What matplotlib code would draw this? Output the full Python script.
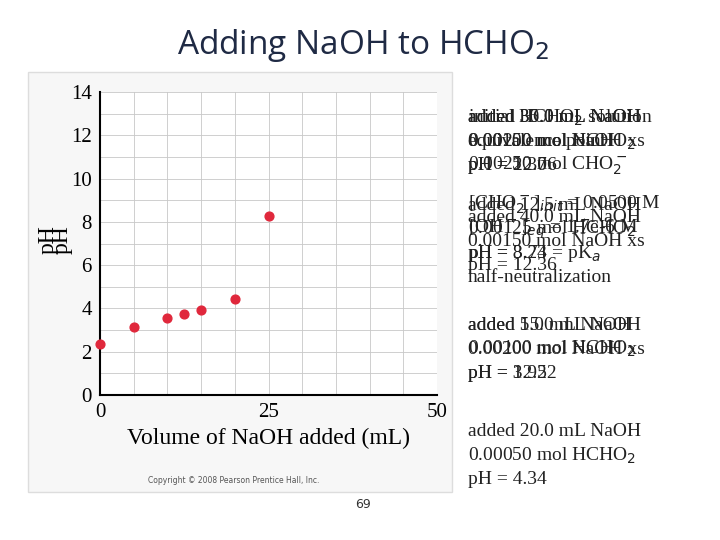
import matplotlib.pyplot as plt
from matplotlib.patches import Rectangle

volume = [0, 5, 10, 12.5, 15, 20, 25]
ph = [2.35, 3.15, 3.55, 3.74, 3.92, 4.45, 8.25]
xticks = [0, 25, 50]
yticks = [0, 2, 4, 6, 8, 10, 12, 14]

fig = plt.figure(figsize=(7.2, 5.4), dpi=100)
# image frame of the textbook figure
fig.patches.append(Rectangle((28/720, 1-492/540), 424/720, 420/540,
                             transform=fig.transFigure, facecolor='#f7f7f7',
                             edgecolor='#dddddd', zorder=-5))
ax = fig.add_axes([100/720, 1-395/540, 337/720, 303/540])
ax.set_zorder(2)
ax.set_facecolor('white')
ax.scatter(volume, ph, color='#e0283c', s=40, zorder=3, clip_on=False)
ax.set_xlim(0, 50)
ax.set_ylim(0, 14)
ax.set_xticks(xticks)
ax.set_yticks(yticks)
ax.set_xticks(range(0, 51, 5), minor=True)
ax.set_yticks(range(0, 15), minor=True)
ax.grid(which='both', color='#c8c8c8', lw=0.6)
ax.tick_params(which='both', length=0, labelsize=15, pad=6)
for lab in ax.get_xticklabels() + ax.get_yticklabels():
    lab.set_family('Liberation Serif')
for s in ['top', 'right']:
    ax.spines[s].set_visible(False)
for s in ['left', 'bottom']:
    ax.spines[s].set_linewidth(1.5)
ax.set_xlabel('Volume of NaOH added (mL)', family='Liberation Serif', fontsize=17)
fig.text(38/720, 1-240/540, 'pH', family='Liberation Serif', fontsize=17, rotation=90, va='center')
fig.text(52/720, 1-240/540, 'pH', family='Liberation Serif', fontsize=17, rotation=90, va='center')
fig.text(148/720, 1-483/540, 'Copyright \u00a9 2008 Pearson Prentice Hall, Inc.', fontsize=5.5, color='#555555')

fig.text(363/720, 1-45/540, 'Adding NaOH to HCHO$_2$', fontsize=24, family='Open Sans',
         color='#1f2a44', ha='center', va='center')
fig.text(363/720, 1-505/540, '69', fontsize=9, color='#333333', ha='center', va='center')

blocks = [
    (118, ['initial HCHO$_2$ solution', '0.00250 mol HCHO$_2$', 'pH = 2.37']),
    (118, ['added 35.0 mL NaOH', '0.00100 mol NaOH xs', 'pH = 12.06']),
    (118, ['added 30.0 mL NaOH', 'equivalence point', '0.00250 mol CHO$_2^-$']),
    (205, ['[CHO$_2^-$]$_{init}$ = 0.0500 M', '[OH$^-$]$_{eq}$ = 1.7e-6 M', 'pH = 8.23']),
    (205, ['added 12.5 mL NaOH', '0.00125 mol HCHO$_2$', 'pH = 3.74 = pK$_a$', 'half-neutralization']),
    (218, ['added 40.0 mL NaOH', '0.00150 mol NaOH xs', 'pH = 12.36']),
    (325, ['added 15.0 mL NaOH', '0.00100 mol HCHO$_2$', 'pH = 3.92']),
    (325, ['added 5.0 mL NaOH', '0.00200 mol NaOH xs', 'pH = 12.52']),
    (432, ['added 20.0 mL NaOH', '0.00050 mol HCHO$_2$', 'pH = 4.34']),
]
for y0, lines in blocks:
    for i, line in enumerate(lines):
        fig.text(468/720, 1-(y0 + 24*i)/540, line, family='Liberation Serif',
                 fontsize=14, color='#222222', va='center')

fig.savefig('out.png', dpi=100)
